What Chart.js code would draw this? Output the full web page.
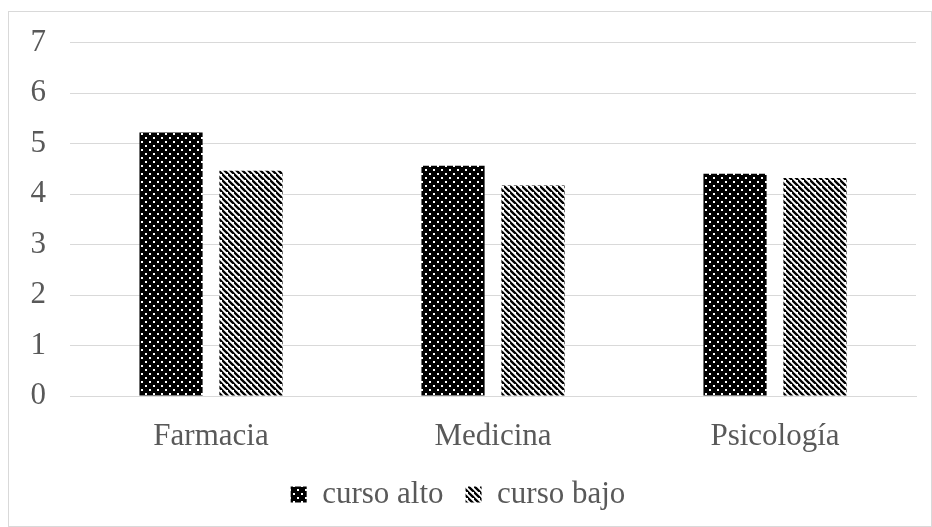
<!DOCTYPE html>
<html>
<head>
<meta charset="utf-8">
<script src="https://cdn.jsdelivr.net/npm/chart.js@4/dist/chart.umd.min.js"></script>
<style>
  html, body { margin: 0; padding: 0; background: #ffffff; }
  #wrap { width: 932px; height: 527px; position: relative; }
</style>
</head>
<body>
<div id="wrap"><canvas id="c" width="932" height="527"></canvas></div>
<script>
// Facultades y puntuación media por curso
const categories = ['Farmacia', 'Medicina', 'Psicología'];
const seriesNames = ['curso alto', 'curso bajo'];
const cursoAlto = [5.22, 4.56, 4.40];
const cursoBajo = [4.46, 4.17, 4.32];
const yTicks = [0, 1, 2, 3, 4, 5, 6, 7];

const TEXT = '#595959';
const GRID = '#d9d9d9';
const FONT = "'Liberation Serif', 'Times New Roman', serif";
const FONT_SIZE = 31;

// Black fill with a staggered grid of small white dots
function dotPattern() {
  const t = document.createElement('canvas');
  t.width = 8; t.height = 8;
  const g = t.getContext('2d');
  g.fillStyle = '#000';
  g.fillRect(0, 0, 8, 8);
  g.fillStyle = '#fff';
  g.fillRect(1, 1, 2, 2);
  g.fillRect(5, 5, 2, 2);
  return g.createPattern(t, 'repeat');
}

// Wide black/white diagonal stripes running down to the right
function stripePattern() {
  const s = 6;
  const t = document.createElement('canvas');
  t.width = s; t.height = s;
  const g = t.getContext('2d');
  g.fillStyle = '#fff';
  g.fillRect(0, 0, s, s);
  g.strokeStyle = '#000';
  g.lineWidth = 2.3;
  g.beginPath();
  g.moveTo(-s, 0); g.lineTo(s * 2, s * 3);
  g.moveTo(-s, -s); g.lineTo(s * 2, s * 2);
  g.moveTo(-s * 2, -s); g.lineTo(s, s * 2);
  g.stroke();
  return g.createPattern(t, 'repeat');
}

const altoFill = dotPattern();
const bajoFill = stripePattern();

// Thin frame around the whole figure
const framePlugin = {
  id: 'frame',
  beforeDraw(chart) {
    const ctx = chart.ctx;
    ctx.save();
    ctx.fillStyle = '#ffffff';
    ctx.fillRect(0, 0, chart.width, chart.height);
    ctx.strokeStyle = GRID;
    ctx.lineWidth = 1;
    ctx.strokeRect(8.5, 11.5, chart.width - 9, chart.height - 12);
    ctx.restore();
  }
};

new Chart(document.getElementById('c'), {
  type: 'bar',
  data: {
    labels: categories,
    datasets: [
      { label: seriesNames[0], data: cursoAlto, backgroundColor: altoFill, borderWidth: 0 },
      { label: seriesNames[1], data: cursoBajo, backgroundColor: bajoFill, borderWidth: 0 }
    ]
  },
  options: {
    responsive: false,
    devicePixelRatio: 1,
    animation: false,
    categoryPercentage: 0.567,
    barPercentage: 0.79,
    layout: { padding: { top: 42, right: 16, bottom: 7, left: 0 } },
    plugins: {
      tooltip: { enabled: false },
      legend: {
        position: 'bottom',
        labels: {
          color: TEXT,
          font: { family: FONT, size: FONT_SIZE },
          boxWidth: 16,
          boxHeight: 16,
          padding: 22
        }
      }
    },
    scales: {
      y: {
        min: 0,
        max: 7,
        afterBuildTicks(scale) { scale.ticks = yTicks.map(v => ({ value: v })); },
        afterFit(scale) { scale.width = 70; },
        grid: { color: GRID, lineWidth: 1, drawTicks: false },
        border: { display: false },
        ticks: { color: TEXT, font: { family: FONT, size: FONT_SIZE }, padding: 24 }
      },
      x: {
        afterFit(scale) { scale.height = 61; },
        grid: { display: false },
        border: { color: GRID, width: 1 },
        ticks: { color: TEXT, font: { family: FONT, size: FONT_SIZE }, padding: 14 }
      }
    }
  },
  plugins: [framePlugin]
});
</script>
</body>
</html>
